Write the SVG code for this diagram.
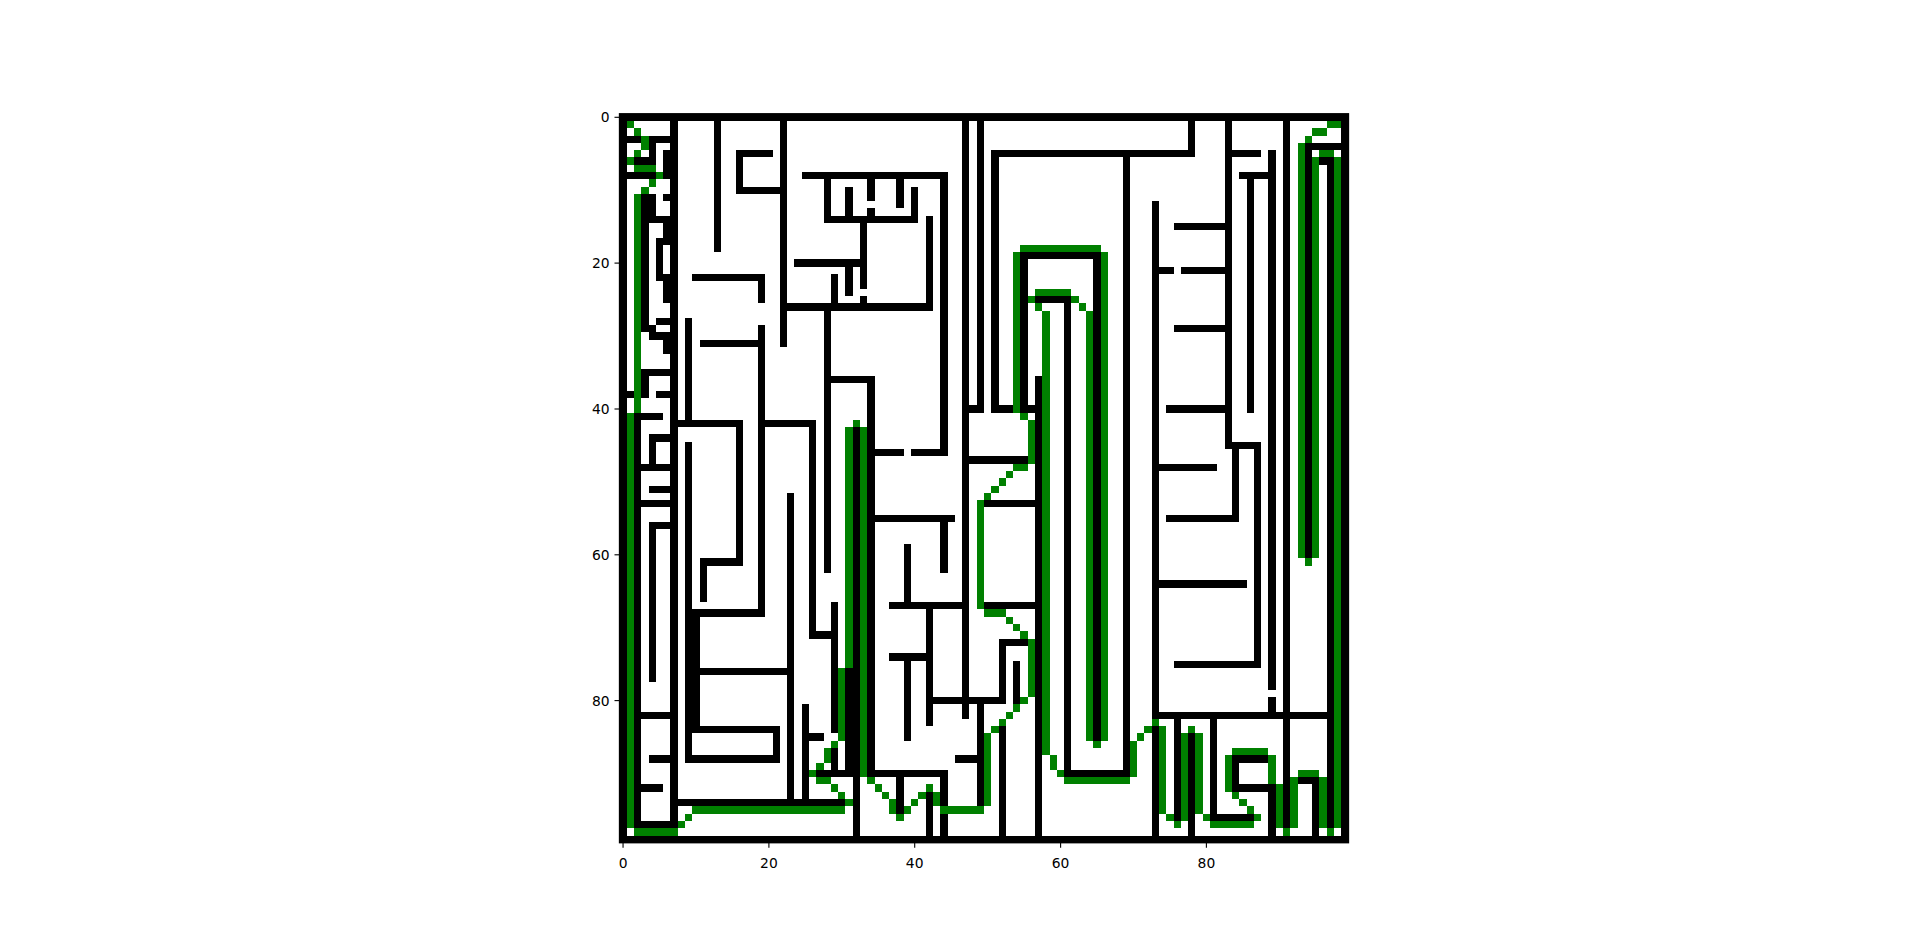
<svg xmlns="http://www.w3.org/2000/svg" width="1920" height="947" viewBox="0 0 1920 947">
<style>
.w rect{fill:#000000}
.p rect{fill:#008000}
.tk{stroke:#000;stroke-width:1.11}
.lb{font-family:"DejaVu Sans",sans-serif;font-size:13.89px;fill:#000}
</style>
<rect x="0" y="0" width="1920" height="947" fill="#ffffff"/>
<g id="maze" transform="translate(619.4,113.64) scale(7.2919)" shape-rendering="crispEdges">
<rect x="0" y="0" width="100" height="100" fill="#ffffff"/>
<g id="walls" class="w">
<rect x="0" y="0" width="100" height="1"/>
<rect x="0" y="99" width="100" height="1"/>
<rect x="0" y="0" width="1" height="100"/>
<rect x="99" y="0" width="1" height="100"/>
<rect x="1" y="3" width="2" height="1"/>
<rect x="4" y="3" width="3" height="1"/>
<rect x="4" y="3" width="1" height="4"/>
<rect x="2" y="6" width="3" height="1"/>
<rect x="6" y="5" width="1" height="4"/>
<rect x="1" y="8" width="4" height="1"/>
<rect x="3" y="11" width="2" height="3"/>
<rect x="6" y="11" width="1" height="1"/>
<rect x="3" y="14" width="4" height="1"/>
<rect x="3" y="14" width="1" height="16"/>
<rect x="6" y="15" width="1" height="3"/>
<rect x="5" y="17" width="1" height="6"/>
<rect x="6" y="22" width="1" height="4"/>
<rect x="5" y="28" width="2" height="1"/>
<rect x="3" y="29" width="2" height="1"/>
<rect x="4" y="30" width="3" height="1"/>
<rect x="6" y="30" width="1" height="3"/>
<rect x="3" y="35" width="4" height="1"/>
<rect x="3" y="35" width="1" height="4"/>
<rect x="1" y="38" width="1" height="1"/>
<rect x="5" y="38" width="2" height="1"/>
<rect x="2" y="41" width="4" height="1"/>
<rect x="2" y="41" width="1" height="57"/>
<rect x="4" y="44" width="3" height="1"/>
<rect x="4" y="44" width="1" height="4"/>
<rect x="2" y="48" width="5" height="1"/>
<rect x="4" y="51" width="3" height="1"/>
<rect x="2" y="53" width="5" height="1"/>
<rect x="4" y="56" width="3" height="1"/>
<rect x="4" y="56" width="1" height="22"/>
<rect x="3" y="82" width="4" height="1"/>
<rect x="4" y="88" width="3" height="1"/>
<rect x="3" y="92" width="3" height="1"/>
<rect x="2" y="97" width="6" height="1"/>
<rect x="7" y="0" width="1" height="98"/>
<rect x="13" y="1" width="1" height="18"/>
<rect x="22" y="1" width="1" height="31"/>
<rect x="16" y="5" width="5" height="1"/>
<rect x="16" y="5" width="1" height="6"/>
<rect x="16" y="10" width="6" height="1"/>
<rect x="25" y="8" width="20" height="1"/>
<rect x="28" y="8" width="1" height="7"/>
<rect x="31" y="10" width="1" height="4"/>
<rect x="28" y="14" width="13" height="1"/>
<rect x="34" y="8" width="1" height="4"/>
<rect x="34" y="13" width="1" height="1"/>
<rect x="38" y="8" width="1" height="5"/>
<rect x="40" y="10" width="1" height="5"/>
<rect x="33" y="14" width="1" height="10"/>
<rect x="33" y="25" width="1" height="2"/>
<rect x="42" y="14" width="1" height="13"/>
<rect x="22" y="26" width="21" height="1"/>
<rect x="24" y="20" width="9" height="1"/>
<rect x="29" y="22" width="1" height="4"/>
<rect x="31" y="21" width="1" height="4"/>
<rect x="10" y="22" width="10" height="1"/>
<rect x="19" y="22" width="1" height="4"/>
<rect x="9" y="28" width="1" height="15"/>
<rect x="11" y="31" width="9" height="1"/>
<rect x="19" y="29" width="1" height="40"/>
<rect x="28" y="26" width="1" height="37"/>
<rect x="28" y="36" width="7" height="1"/>
<rect x="34" y="36" width="1" height="55"/>
<rect x="8" y="42" width="9" height="1"/>
<rect x="16" y="42" width="1" height="20"/>
<rect x="11" y="61" width="6" height="1"/>
<rect x="11" y="61" width="1" height="6"/>
<rect x="9" y="45" width="1" height="44"/>
<rect x="19" y="42" width="8" height="1"/>
<rect x="26" y="42" width="1" height="30"/>
<rect x="23" y="52" width="1" height="43"/>
<rect x="9" y="68" width="11" height="1"/>
<rect x="10" y="68" width="1" height="17"/>
<rect x="11" y="76" width="12" height="1"/>
<rect x="9" y="84" width="13" height="1"/>
<rect x="21" y="84" width="1" height="5"/>
<rect x="9" y="88" width="13" height="1"/>
<rect x="25" y="81" width="1" height="14"/>
<rect x="26" y="85" width="2" height="1"/>
<rect x="26" y="71" width="4" height="1"/>
<rect x="29" y="67" width="1" height="18"/>
<rect x="29" y="87" width="1" height="3"/>
<rect x="32" y="43" width="1" height="56"/>
<rect x="31" y="76" width="1" height="15"/>
<rect x="27" y="90" width="6" height="1"/>
<rect x="8" y="94" width="23" height="1"/>
<rect x="47" y="1" width="1" height="82"/>
<rect x="49" y="1" width="1" height="40"/>
<rect x="47" y="40" width="3" height="1"/>
<rect x="51" y="5" width="28" height="1"/>
<rect x="51" y="5" width="1" height="36"/>
<rect x="51" y="40" width="3" height="1"/>
<rect x="55" y="19" width="11" height="1"/>
<rect x="55" y="19" width="1" height="22"/>
<rect x="55" y="40" width="2" height="1"/>
<rect x="65" y="19" width="1" height="67"/>
<rect x="57" y="25" width="5" height="1"/>
<rect x="61" y="25" width="1" height="65"/>
<rect x="61" y="90" width="9" height="1"/>
<rect x="57" y="36" width="1" height="63"/>
<rect x="35" y="46" width="4" height="1"/>
<rect x="40" y="46" width="5" height="1"/>
<rect x="44" y="8" width="1" height="39"/>
<rect x="47" y="47" width="9" height="1"/>
<rect x="50" y="53" width="8" height="1"/>
<rect x="35" y="55" width="11" height="1"/>
<rect x="44" y="56" width="1" height="7"/>
<rect x="39" y="59" width="1" height="8"/>
<rect x="37" y="67" width="11" height="1"/>
<rect x="50" y="67" width="7" height="1"/>
<rect x="42" y="68" width="1" height="16"/>
<rect x="37" y="74" width="6" height="1"/>
<rect x="39" y="75" width="1" height="11"/>
<rect x="42" y="80" width="11" height="1"/>
<rect x="52" y="72" width="1" height="9"/>
<rect x="52" y="72" width="4" height="1"/>
<rect x="54" y="75" width="1" height="6"/>
<rect x="49" y="81" width="1" height="14"/>
<rect x="46" y="88" width="3" height="1"/>
<rect x="52" y="84" width="1" height="15"/>
<rect x="34" y="90" width="11" height="1"/>
<rect x="38" y="91" width="1" height="5"/>
<rect x="44" y="91" width="1" height="4"/>
<rect x="44" y="96" width="1" height="3"/>
<rect x="42" y="93" width="1" height="6"/>
<rect x="78" y="1" width="1" height="5"/>
<rect x="69" y="6" width="1" height="85"/>
<rect x="83" y="1" width="1" height="45"/>
<rect x="84" y="5" width="4" height="1"/>
<rect x="89" y="5" width="1" height="74"/>
<rect x="89" y="80" width="1" height="2"/>
<rect x="85" y="8" width="4" height="1"/>
<rect x="86" y="9" width="1" height="32"/>
<rect x="91" y="1" width="1" height="97"/>
<rect x="73" y="12" width="1" height="71"/>
<rect x="73" y="84" width="1" height="15"/>
<rect x="76" y="15" width="7" height="1"/>
<rect x="74" y="21" width="2" height="1"/>
<rect x="77" y="21" width="6" height="1"/>
<rect x="76" y="29" width="7" height="1"/>
<rect x="75" y="40" width="8" height="1"/>
<rect x="83" y="45" width="5" height="1"/>
<rect x="87" y="45" width="1" height="31"/>
<rect x="74" y="48" width="8" height="1"/>
<rect x="84" y="46" width="1" height="10"/>
<rect x="75" y="55" width="10" height="1"/>
<rect x="74" y="64" width="12" height="1"/>
<rect x="76" y="75" width="12" height="1"/>
<rect x="73" y="82" width="25" height="1"/>
<rect x="76" y="83" width="1" height="14"/>
<rect x="78" y="85" width="1" height="14"/>
<rect x="81" y="83" width="1" height="14"/>
<rect x="81" y="96" width="6" height="1"/>
<rect x="84" y="88" width="5" height="1"/>
<rect x="84" y="88" width="1" height="5"/>
<rect x="84" y="92" width="6" height="1"/>
<rect x="89" y="92" width="1" height="7"/>
<rect x="93" y="91" width="3" height="1"/>
<rect x="95" y="91" width="1" height="8"/>
<rect x="97" y="6" width="1" height="92"/>
<rect x="96" y="6" width="2" height="1"/>
<rect x="94" y="4" width="5" height="1"/>
<rect x="94" y="4" width="1" height="57"/>
</g>
<g id="path" class="p">
<rect x="1" y="1" width="1" height="1"/>
<rect x="2" y="2" width="1" height="1"/>
<rect x="3" y="3" width="1" height="2"/>
<rect x="2" y="5" width="1" height="1"/>
<rect x="1" y="6" width="1" height="1"/>
<rect x="2" y="7" width="3" height="1"/>
<rect x="5" y="8" width="1" height="1"/>
<rect x="4" y="9" width="1" height="1"/>
<rect x="3" y="10" width="1" height="1"/>
<rect x="2" y="11" width="1" height="30"/>
<rect x="1" y="41" width="1" height="57"/>
<rect x="2" y="98" width="6" height="1"/>
<rect x="8" y="97" width="1" height="1"/>
<rect x="9" y="96" width="1" height="1"/>
<rect x="10" y="95" width="21" height="1"/>
<rect x="31" y="94" width="1" height="1"/>
<rect x="30" y="93" width="1" height="1"/>
<rect x="29" y="92" width="1" height="1"/>
<rect x="27" y="91" width="2" height="1"/>
<rect x="26" y="90" width="1" height="1"/>
<rect x="27" y="89" width="1" height="1"/>
<rect x="28" y="87" width="1" height="2"/>
<rect x="29" y="86" width="1" height="1"/>
<rect x="30" y="76" width="1" height="10"/>
<rect x="31" y="43" width="1" height="33"/>
<rect x="32" y="42" width="1" height="1"/>
<rect x="33" y="43" width="1" height="48"/>
<rect x="34" y="91" width="1" height="1"/>
<rect x="35" y="92" width="1" height="1"/>
<rect x="36" y="93" width="1" height="1"/>
<rect x="37" y="94" width="1" height="2"/>
<rect x="38" y="96" width="1" height="1"/>
<rect x="39" y="95" width="1" height="1"/>
<rect x="40" y="94" width="1" height="1"/>
<rect x="41" y="93" width="1" height="1"/>
<rect x="42" y="92" width="1" height="1"/>
<rect x="43" y="93" width="1" height="2"/>
<rect x="44" y="95" width="6" height="1"/>
<rect x="50" y="85" width="1" height="10"/>
<rect x="51" y="84" width="1" height="1"/>
<rect x="52" y="83" width="1" height="1"/>
<rect x="53" y="82" width="1" height="1"/>
<rect x="54" y="81" width="1" height="1"/>
<rect x="55" y="80" width="1" height="1"/>
<rect x="56" y="72" width="1" height="8"/>
<rect x="55" y="71" width="1" height="1"/>
<rect x="54" y="70" width="1" height="1"/>
<rect x="53" y="69" width="1" height="1"/>
<rect x="50" y="68" width="3" height="1"/>
<rect x="49" y="53" width="1" height="15"/>
<rect x="50" y="52" width="1" height="1"/>
<rect x="51" y="51" width="1" height="1"/>
<rect x="52" y="50" width="1" height="1"/>
<rect x="53" y="49" width="1" height="1"/>
<rect x="54" y="48" width="2" height="1"/>
<rect x="56" y="42" width="1" height="6"/>
<rect x="55" y="41" width="1" height="1"/>
<rect x="54" y="19" width="1" height="22"/>
<rect x="55" y="18" width="11" height="1"/>
<rect x="66" y="19" width="1" height="67"/>
<rect x="65" y="86" width="1" height="1"/>
<rect x="64" y="27" width="1" height="59"/>
<rect x="63" y="26" width="1" height="1"/>
<rect x="62" y="25" width="1" height="1"/>
<rect x="57" y="24" width="5" height="1"/>
<rect x="56" y="25" width="1" height="1"/>
<rect x="57" y="26" width="1" height="1"/>
<rect x="58" y="27" width="1" height="61"/>
<rect x="59" y="88" width="1" height="2"/>
<rect x="60" y="90" width="1" height="1"/>
<rect x="61" y="91" width="9" height="1"/>
<rect x="70" y="86" width="1" height="5"/>
<rect x="71" y="85" width="1" height="1"/>
<rect x="72" y="84" width="1" height="1"/>
<rect x="73" y="83" width="1" height="1"/>
<rect x="74" y="84" width="1" height="12"/>
<rect x="75" y="96" width="1" height="1"/>
<rect x="76" y="97" width="1" height="1"/>
<rect x="77" y="85" width="1" height="12"/>
<rect x="78" y="84" width="1" height="1"/>
<rect x="79" y="85" width="1" height="11"/>
<rect x="80" y="96" width="1" height="1"/>
<rect x="81" y="97" width="6" height="1"/>
<rect x="87" y="96" width="1" height="1"/>
<rect x="86" y="95" width="1" height="1"/>
<rect x="85" y="94" width="1" height="1"/>
<rect x="84" y="93" width="1" height="1"/>
<rect x="83" y="88" width="1" height="5"/>
<rect x="84" y="87" width="5" height="1"/>
<rect x="89" y="88" width="1" height="4"/>
<rect x="90" y="92" width="1" height="6"/>
<rect x="91" y="98" width="1" height="1"/>
<rect x="92" y="91" width="1" height="7"/>
<rect x="93" y="90" width="3" height="1"/>
<rect x="96" y="91" width="1" height="7"/>
<rect x="97" y="98" width="1" height="1"/>
<rect x="98" y="6" width="1" height="92"/>
<rect x="96" y="5" width="2" height="1"/>
<rect x="95" y="6" width="1" height="55"/>
<rect x="94" y="61" width="1" height="1"/>
<rect x="93" y="4" width="1" height="57"/>
<rect x="94" y="3" width="1" height="1"/>
<rect x="95" y="2" width="2" height="1"/>
<rect x="97" y="1" width="2" height="1"/>
</g>
</g>
<g id="axes">
<rect x="619.4" y="113.64" width="729.2" height="729.19" fill="none" stroke="#000" stroke-width="1.11"/>
<line class="tk" x1="623.05" y1="842.83" x2="623.05" y2="847.7"/>
<line class="tk" x1="768.9" y1="842.83" x2="768.9" y2="847.7"/>
<line class="tk" x1="914.7" y1="842.83" x2="914.7" y2="847.7"/>
<line class="tk" x1="1060.6" y1="842.83" x2="1060.6" y2="847.7"/>
<line class="tk" x1="1206.4" y1="842.83" x2="1206.4" y2="847.7"/>
<line class="tk" x1="614.5" y1="117.3" x2="619.4" y2="117.3"/>
<line class="tk" x1="614.5" y1="263.1" x2="619.4" y2="263.1"/>
<line class="tk" x1="614.5" y1="409.0" x2="619.4" y2="409.0"/>
<line class="tk" x1="614.5" y1="554.8" x2="619.4" y2="554.8"/>
<line class="tk" x1="614.5" y1="700.6" x2="619.4" y2="700.6"/>
<text class="lb" x="623.05" y="867.5" text-anchor="middle">0</text>
<text class="lb" x="768.9" y="867.5" text-anchor="middle">20</text>
<text class="lb" x="914.7" y="867.5" text-anchor="middle">40</text>
<text class="lb" x="1060.6" y="867.5" text-anchor="middle">60</text>
<text class="lb" x="1206.4" y="867.5" text-anchor="middle">80</text>
<text class="lb" x="609.7" y="122.3" text-anchor="end">0</text>
<text class="lb" x="609.7" y="268.1" text-anchor="end">20</text>
<text class="lb" x="609.7" y="414.0" text-anchor="end">40</text>
<text class="lb" x="609.7" y="559.8" text-anchor="end">60</text>
<text class="lb" x="609.7" y="705.6" text-anchor="end">80</text>
</g>
</svg>
